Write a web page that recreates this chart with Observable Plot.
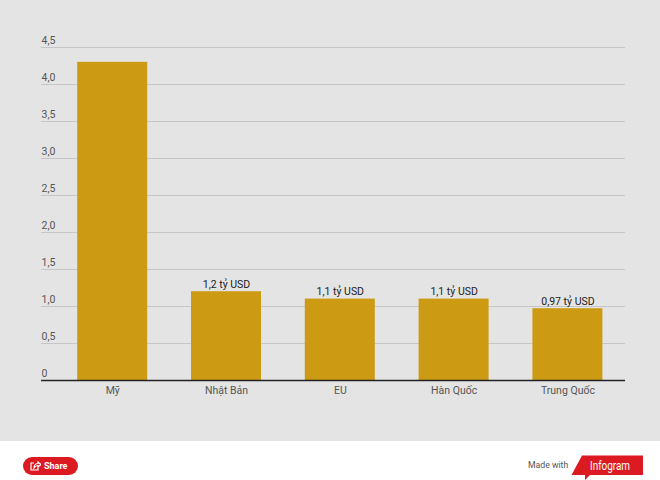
<!DOCTYPE html>
<html>
<head>
<meta charset="utf-8">
<script src="https://cdn.jsdelivr.net/npm/d3@7"></script>
<script src="https://cdn.jsdelivr.net/npm/@observablehq/plot@0.6"></script>
<style>
html,body{margin:0;padding:0;background:#fff;font-family:Roboto,sans-serif;overflow:hidden}
#chart{width:660px;height:441px;background:#e4e4e4}
#chart svg{display:block}
#footer{position:relative;width:660px;height:39px;background:#fff}
#share{position:absolute;left:23px;top:16px;width:55px;height:18px;border-radius:9px;background:#db1a22;color:#fff;font:700 9px Roboto,sans-serif;line-height:18px}
#share svg{position:absolute;left:7px;top:4px}
#share span{position:absolute;left:21px;top:0}
#made{position:absolute;left:528px;top:17px;font:400 8.7px/14px Roboto,sans-serif;color:#555}
#logo{position:absolute;left:571px;top:14px}
</style>
</head>
<body>
<div id="chart"></div>
<div id="footer">
  <div id="share">
    <svg width="11" height="10" viewBox="0 0 11 10"><path d="M4 2H1v7h7V6M4 7c0-3 2-4.500 4-4.500V1l3 2.500L8 6V4.500C6 4.500 5 5.500 4 7z" fill="none" stroke="#fff" stroke-width="1.200"/></svg>
    <span>Share</span>
  </div>
  <div id="made">Made with</div>
  <svg id="logo" width="73" height="26" viewBox="0 0 73 26">
    <path d="M11 0.500H72V20H19L14 25V20H0.500z" fill="#db1a22"/>
    <text x="19" y="14.500" fill="#fff" font-family="Roboto,sans-serif" font-size="12.500" textLength="40" lengthAdjust="spacingAndGlyphs">Infogram</text>
  </svg>
</div>
<script>
const categories = ["Mỹ", "Nhật Bản", "EU", "Hàn Quốc", "Trung Quốc"];
const seriesValues = [4.3, 1.2, 1.1, 1.1, 0.97];
const barLabels = ["", "1,2 tỷ USD", "1,1 tỷ USD", "1,1 tỷ USD", "0,97 tỷ USD"];
const yTicks = [0, 0.5, 1, 1.5, 2, 2.5, 3, 3.5, 4, 4.5];
const yTickLabels = ["0", "0,5", "1,0", "1,5", "2,0", "2,5", "3,0", "3,5", "4,0", "4,5"];

const rows = categories.map((c, i) => ({c, v: seriesValues[i], label: barLabels[i]}));
const gridTicks = yTicks.filter(t => t > 0);

const plot = Plot.plot({
  width: 660,
  height: 440,
  marginLeft: 41,
  marginRight: 35,
  marginTop: 40,
  marginBottom: 60,
  style: {background: "transparent", fontFamily: "Roboto, sans-serif", overflow: "visible"},
  x: {domain: categories, range: [55.3, 624.3], round: false, paddingInner: 0.385, paddingOuter: 0.1925, align: 0.5, label: null},
  y: {domain: [0, 4.5], range: [380, 47], label: null},
  marks: [
    Plot.ruleY(gridTicks, {stroke: "#c6c6c6", strokeWidth: 1}),
    Plot.barY(rows, {x: "c", y: "v", fill: "#cc9b13"}),
    Plot.ruleY([0], {stroke: "#222", strokeWidth: 1.500}),
    Plot.text(rows, {x: "c", y: "v", text: "label", dy: -7, fill: "#222", fontSize: 10.500}),
    Plot.axisY({
      ticks: yTicks,
      tickFormat: (d) => yTickLabels[yTicks.indexOf(d)],
      tickSize: 0,
      tickPadding: 0,
      textAnchor: "start",
      dy: -6.500,
      dx: 0,
      fill: "#555",
      fontSize: 10.500,
      label: null
    }),
    Plot.axisX({
      tickSize: 0,
      tickPadding: 6,
      fill: "#555",
      fontSize: 10.500,
      label: null
    })
  ]
});
document.getElementById("chart").appendChild(plot);
</script>
</body>
</html>
